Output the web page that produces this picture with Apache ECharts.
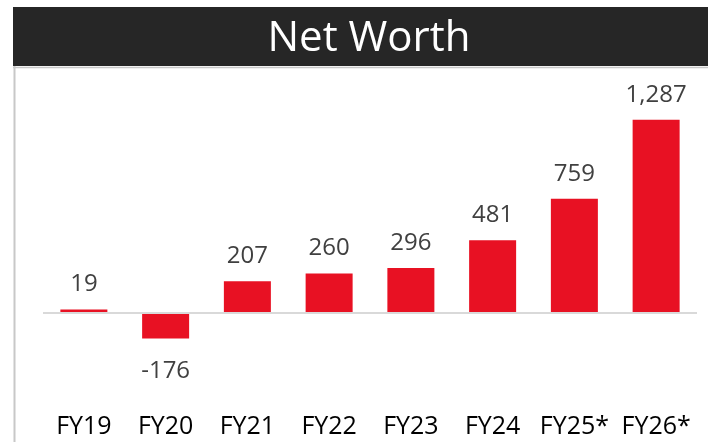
<!DOCTYPE html>
<html>
<head>
<meta charset="utf-8">
<script src="https://cdn.jsdelivr.net/npm/echarts@6/dist/echarts.min.js"></script>
<style>
  html, body { margin: 0; padding: 0; background: #fff; }
  #chart { width: 708px; height: 442px; }
</style>
</head>
<body>
<div id="chart"></div>
<script>
const categories = ['FY19', 'FY20', 'FY21', 'FY22', 'FY23', 'FY24', 'FY25*', 'FY26*']
const netWorth = [19, -176, 207, 260, 296, 481, 759, 1287]
const chartTitle = 'Net Worth'

const chart = echarts.init(document.getElementById('chart'))
const option = {
  backgroundColor: '#fff',
  animation: false,
  textStyle: { fontFamily: 'Open Sans' },
  graphic: [
    {
      type: 'rect',
      shape: { x: 13, y: 7, width: 700, height: 59 },
      style: { fill: '#262626' },
      z: 0
    },
    {
      type: 'line',
      shape: { x1: 13, y1: 67.5, x2: 708, y2: 67.5 },
      style: { stroke: '#c8c8c8', lineWidth: 1.5 }
    },
    {
      type: 'line',
      shape: { x1: 14.5, y1: 66, x2: 14.5, y2: 442 },
      style: { stroke: '#c8c8c8', lineWidth: 2 }
    },
    {
      type: 'text',
      x: 369,
      y: 39,
      z: 10,
      style: {
        text: chartTitle,
        fill: '#fff',
        font: '42px "Open Sans"',
        align: 'center',
        verticalAlign: 'middle'
      }
    }
  ],
  grid: {
    left: 43,
    right: 11,
    top: 88,
    bottom: 55
  },
  xAxis: {
    type: 'category',
    data: categories,
    axisLine: { show: false, onZero: false },
    axisTick: { show: false },
    axisLabel: {
      interval: 0,
      hideOverlap: false,
      margin: 27,
      color: '#000',
      fontSize: 25,
      fontFamily: 'Open Sans'
    }
  },
  yAxis: {
    type: 'value',
    min: -500,
    max: 1500,
    show: false,
    splitLine: { show: false }
  },
  series: [
    {
      name: chartTitle,
      type: 'bar',
      barWidth: 47,
      itemStyle: { color: '#e81123' },
      label: {
        show: true,
        position: 'top',
        distance: 13,
        color: '#404040',
        fontSize: 24,
        fontFamily: 'Open Sans',
        formatter: function(p) {
          return p.value.toLocaleString('en-US')
        }
      },
      markLine: {
        silent: true,
        symbol: 'none',
        label: { show: false },
        lineStyle: { color: '#d9d9d9', width: 2, type: 'solid' },
        data: [{ yAxis: 0 }]
      },
      // negative bar puts its label below
      data: netWorth.map(function(v) {
        return v < 0 ? { value: v, label: { position: 'bottom', distance: 21 } } : v
      })
    }
  ]
}
chart.setOption(option)
window.onresize = function() {
  chart.resize()
}
</script>
</body>
</html>
